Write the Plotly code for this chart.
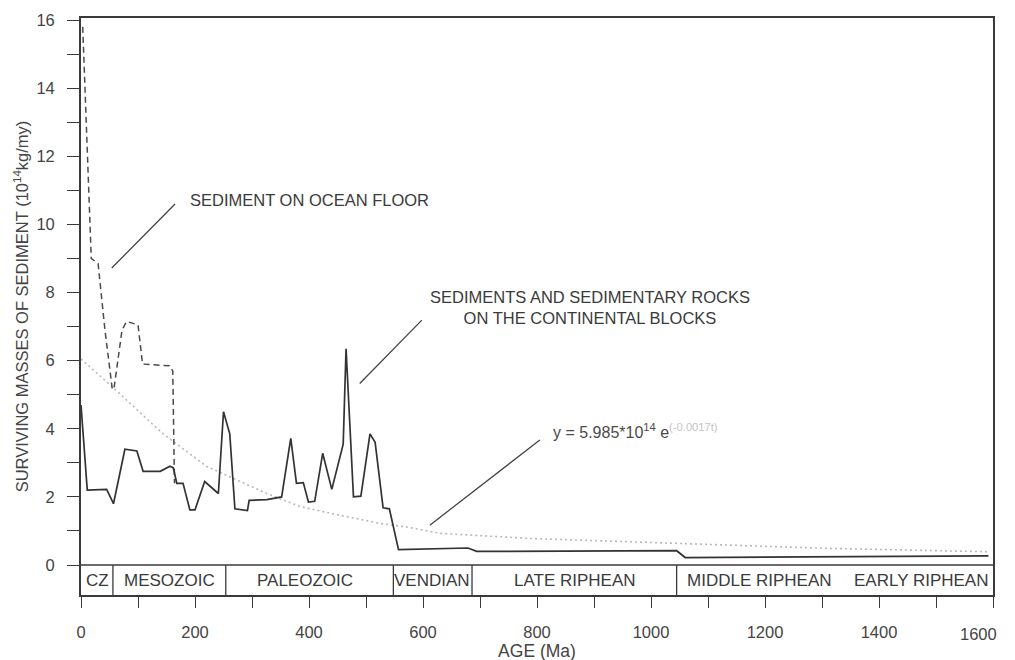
import plotly.graph_objects as go

# ---------------- data ----------------
cont_age = [0, 11, 45, 57, 77, 98, 109, 139, 156, 162, 168, 179, 191, 200, 217, 241,
            250, 261, 270, 292, 295, 326, 352, 368, 378, 390, 399, 410, 424, 440,
            460, 465, 478, 491, 507, 516, 530, 541, 557, 679, 694, 1045, 1060, 1592]
cont_val = [4.7, 2.2, 2.22, 1.8, 3.4, 3.35, 2.75, 2.75, 2.9, 2.85, 2.4, 2.4, 1.62, 1.62,
            2.45, 2.1, 4.5, 3.85, 1.65, 1.6, 1.9, 1.92, 2.0, 3.72, 2.4, 2.42, 1.85, 1.87,
            3.28, 2.22, 3.55, 6.35, 2.0, 2.02, 3.85, 3.6, 1.68, 1.65, 0.45, 0.5, 0.4,
            0.42, 0.22, 0.27]

ocean_age = [3, 18, 30, 42, 55, 58, 72, 80, 100, 108, 155, 161, 164]
ocean_val = [15.8, 9.0, 8.85, 6.9, 5.15, 5.2, 6.9, 7.15, 7.05, 5.9, 5.85, 5.7, 2.4]

fit_age = [0, 57, 144, 220, 326, 384, 443, 525, 577, 630, 788, 992, 1074, 1308, 1592]
fit_val = [6.05, 5.2, 3.85, 2.9, 2.1, 1.72, 1.5, 1.22, 1.1, 0.93, 0.78, 0.68, 0.62, 0.49, 0.39]

era_names = ["CZ", "MESOZOIC", "PALEOZOIC", "VENDIAN", "LATE RIPHEAN",
             "MIDDLE RIPHEAN", "EARLY RIPHEAN"]
era_label_age = [29, 155, 393, 616, 866, 1190, 1474]
era_bounds = [56, 254, 548, 686, 1045]

x_ticks = [0, 200, 400, 600, 800, 1000, 1200, 1400, 1600]
x_tick_text = ["0", "200", "400", "600", "800", "1000", "1200", "1400", "1600"]
y_ticks = [0, 2, 4, 6, 8, 10, 12, 14, 16]

band_bottom = -0.88
y_top = 16.06

# callouts: text, text anchor (age, value), leader start, leader end
label_ocean = "SEDIMENT ON OCEAN FLOOR"
label_ocean_pos = (188, 10.72)
lead_ocean = [(54, 8.72), (165, 10.6)]

label_cont = "SEDIMENTS AND SEDIMENTARY ROCKS<br>ON THE CONTINENTAL BLOCKS"
label_cont_pos = (893, 7.57)
lead_cont = [(489, 5.33), (598, 7.19)]

label_fit = ("y = 5.985*10<sup>14</sup> e<sup><span style='color:#c4c4c4'>(-0.0017t)</span></sup>")
label_fit_pos = (825, 3.93)
lead_fit = [(612, 1.17), (805, 3.67)]

# ---------------- figure ----------------
FONT = "Liberation Sans, Arial, Helvetica, sans-serif"
INK = "#3a3a3a"
TICK_INK = "#444444"

fig = go.Figure()

fig.add_trace(go.Scatter(x=fit_age, y=fit_val, mode="lines",
                         line=dict(color="#b8b8b8", width=1.6, dash="2px,3px"),
                         hoverinfo="skip", showlegend=False))
fig.add_trace(go.Scatter(x=ocean_age, y=ocean_val, mode="lines",
                         line=dict(color="#4a4a4a", width=1.5, dash="6px,4px"),
                         showlegend=False))
fig.add_trace(go.Scatter(x=cont_age, y=cont_val, mode="lines",
                         line=dict(color="#333333", width=1.7),
                         showlegend=False))

shapes = []
# time-scale band top line
shapes.append(dict(type="line", xref="x", yref="y", x0=0, x1=1600, y0=0, y1=0,
                   line=dict(color=INK, width=1.5)))
for b in era_bounds:
    shapes.append(dict(type="line", xref="x", yref="y", x0=b, x1=b, y0=band_bottom, y1=0,
                       line=dict(color=INK, width=1.3)))
for (p0, p1) in [lead_ocean, lead_cont, lead_fit]:
    shapes.append(dict(type="line", xref="x", yref="y", x0=p0[0], y0=p0[1],
                       x1=p1[0], y1=p1[1], line=dict(color="#444444", width=1.3)))

annotations = []
for name, a in zip(era_names, era_label_age):
    annotations.append(dict(x=a, y=band_bottom / 2, xref="x", yref="y", text=name,
                            showarrow=False, font=dict(family=FONT, size=17, color=INK),
                            xanchor="center", yanchor="middle"))
annotations.append(dict(x=label_ocean_pos[0], y=label_ocean_pos[1], xref="x", yref="y",
                        text=label_ocean, showarrow=False, xanchor="left", yanchor="middle",
                        font=dict(family=FONT, size=16.5, color=INK)))
annotations.append(dict(x=label_cont_pos[0], y=label_cont_pos[1], xref="x", yref="y",
                        text=label_cont, showarrow=False, xanchor="center", yanchor="middle",
                        align="center",
                        font=dict(family=FONT, size=16.5, color=INK)))
annotations.append(dict(x=label_fit_pos[0], y=label_fit_pos[1], xref="x", yref="y",
                        text=label_fit, showarrow=False, xanchor="left", yanchor="middle",
                        font=dict(family=FONT, size=16, color="#4a4a4a")))

# the last x tick label would be cut by the window edge: draw it right-aligned instead
shown_tick_text = x_tick_text[:-1] + [""]
annotations.append(dict(x=x_ticks[-1], y=0, xref="x", yref="paper", text=x_tick_text[-1],
                        showarrow=False, xanchor="right", yanchor="middle",
                        xshift=6, yshift=-39,
                        font=dict(family=FONT, size=16.5, color=TICK_INK)))

# the page body adds an 8px offset, so margins are shifted to compensate
fig.update_layout(
    width=1015, height=660,
    margin=dict(l=73, r=30, t=10, b=73),
    paper_bgcolor="white", plot_bgcolor="white",
    font=dict(family=FONT, color=INK, size=16),
    shapes=shapes, annotations=annotations,
    showlegend=False,
)
fig.update_xaxes(
    range=[0, 1600], tickvals=x_ticks, ticktext=shown_tick_text, automargin=False,
    ticklabeloverflow="allow",
    ticks="outside", ticklen=11, tickwidth=1.3, tickcolor=INK,
    minor=dict(dtick=100, tick0=0, ticks="outside", ticklen=11, tickwidth=1.3, tickcolor=INK),
    showline=True, linecolor=INK, linewidth=1.6, mirror=True,
    showgrid=False, zeroline=False,
    tickfont=dict(family=FONT, size=16.5, color=TICK_INK),
    ticklabelstandoff=10,
    title=dict(text="AGE (Ma)", standoff=5, font=dict(family=FONT, size=17.5, color=TICK_INK)),
)
fig.update_yaxes(
    range=[band_bottom, y_top], tickvals=y_ticks, automargin=False,
    ticks="outside", ticklen=12, tickwidth=1.3, tickcolor=INK,
    minor=dict(dtick=1, tick0=0, ticks="outside", ticklen=12, tickwidth=1.3, tickcolor=INK),
    showline=True, linecolor=INK, linewidth=1.8, mirror=True,
    showgrid=False, zeroline=False,
    tickfont=dict(family=FONT, size=16.5, color=TICK_INK),
    ticklabelstandoff=9,
    title=dict(text="SURVIVING MASSES OF SEDIMENT (10<sup>14</sup>kg/my)", standoff=4,
               font=dict(family=FONT, size=16.5, color=TICK_INK)),
)

fig.write_html("out.html")
